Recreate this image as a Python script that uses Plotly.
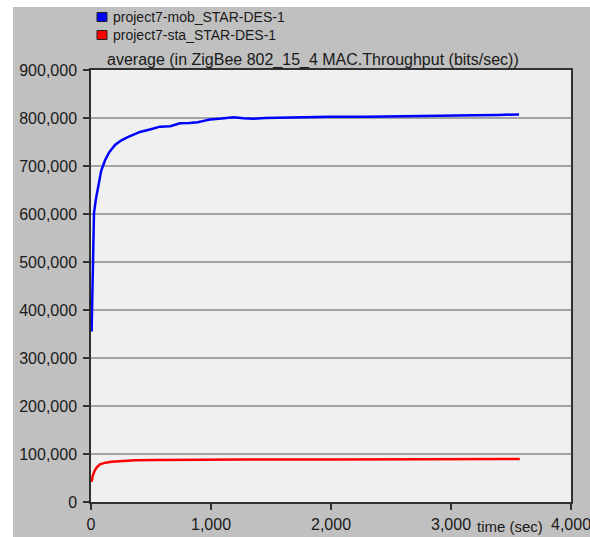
import plotly.graph_objects as go

# ---- data ----
series_names = ["project7-mob_STAR-DES-1", "project7-sta_STAR-DES-1"]
series_colors = ["#0000ff", "#ff0000"]

time_mob = [5, 14, 25, 40, 61, 85, 117, 150, 200, 250, 306, 360, 408, 490, 575, 660,
            742, 820, 889, 940, 992, 1090, 1186, 1270, 1353, 1450, 1575, 1800, 1992,
            2300, 2600, 2900, 3200, 3400, 3567]
thr_mob = [355000, 462000, 602000, 630000, 657000, 690000, 712000, 728000, 744000,
           753000, 760000, 766000, 771000, 776000, 782000, 783000, 789000, 789500,
           791000, 794000, 797000, 799000, 801500, 799500, 798600, 800000, 800600,
           801500, 802700, 802500, 803000, 804500, 805500, 806500, 807500]

time_sta = [5, 15, 33, 50, 75, 120, 172, 250, 367, 550, 783, 1000, 1283, 2000, 2800, 3573]
thr_sta = [42000, 55000, 66700, 73000, 78500, 82000, 84000, 85700, 86800, 87500,
           88000, 88300, 88500, 88800, 89200, 89600]

x_ticks = [0, 1000, 2000, 3000, 4000]
y_ticks = [0, 100000, 200000, 300000, 400000, 500000, 600000, 700000, 800000, 900000]

title_text = "average (in ZigBee 802_15_4 MAC.Throughput (bits/sec))"
x_title = "time (sec)"

# ---- figure ----
W, H = 590, 537
L, R, T, B = 91, 19, 70, 35
pw, ph = W - L - R, H - T - B

def px_x(px):
    return (px - L) / pw

def px_y(py):
    return (H - B - py) / ph

FONT = "Liberation Sans, Arial, sans-serif"
TXT = "#1a1a1a"
fig = go.Figure()

for xs, ys, c, n in [(time_mob, thr_mob, series_colors[0], series_names[0]),
                     (time_sta, thr_sta, series_colors[1], series_names[1])]:
    fig.add_trace(go.Scatter(x=xs, y=ys, mode="lines", name=n,
                             line=dict(color=c, width=2.5), showlegend=False))

axis_common = dict(
    showline=True, linecolor="#303030", linewidth=1.5, mirror=True,
    ticks="outside", ticklen=6, tickwidth=1.5, tickcolor="#303030",
    tickfont=dict(family=FONT, size=16, color=TXT),
    tickformat=",d", zeroline=False, automargin=False,
    ticklabeloverflow="allow",
)

fig.update_xaxes(range=[0, 4000], tickvals=x_ticks, showgrid=False,
                 ticklabelstandoff=1, **axis_common)
fig.update_yaxes(range=[0, 900000], tickvals=y_ticks, showgrid=True,
                 gridcolor="#a4a4a4", gridwidth=1.5, ticklabelstandoff=3, **axis_common)

shapes = [
    dict(type="rect", xref="paper", yref="paper", x0=px_x(0), x1=px_x(13),
         y0=px_y(H), y1=px_y(0), fillcolor="white", line=dict(width=0), layer="below"),
    dict(type="rect", xref="paper", yref="paper", x0=px_x(0), x1=px_x(W),
         y0=px_y(7), y1=px_y(0), fillcolor="white", line=dict(width=0), layer="below"),
]
annotations = [
    dict(text=title_text, xref="paper", yref="paper", x=px_x(313), y=px_y(60),
         xanchor="center", yanchor="middle", showarrow=False,
         font=dict(family=FONT, size=16, color=TXT)),
    dict(text=x_title, xref="paper", yref="paper", x=px_x(545), y=px_y(537),
         xanchor="right", yanchor="bottom", showarrow=False,
         font=dict(family=FONT, size=15, color=TXT)),
]

# legend: square swatches + labels
for i, (name, c) in enumerate(zip(series_names, series_colors)):
    cy = 17 + 18 * i
    shapes.append(dict(type="rect", xref="paper", yref="paper",
                       x0=px_x(97), x1=px_x(107), y0=px_y(cy + 4.5), y1=px_y(cy - 4.5),
                       fillcolor=c, line=dict(color="#202020", width=1)))
    annotations.append(dict(text=name, xref="paper", yref="paper", x=px_x(111), y=px_y(cy),
                            xanchor="left", yanchor="middle", showarrow=False,
                            font=dict(family=FONT, size=14, color=TXT)))

fig.update_layout(
    width=W, height=H,
    margin=dict(l=L, r=R, t=T, b=B, pad=0),
    paper_bgcolor="#c0c0c0",
    plot_bgcolor="#f0f0f0",
    font=dict(family=FONT, size=14, color=TXT),
    showlegend=False,
    shapes=shapes,
    annotations=annotations,
)

fig.write_html("out.html")
